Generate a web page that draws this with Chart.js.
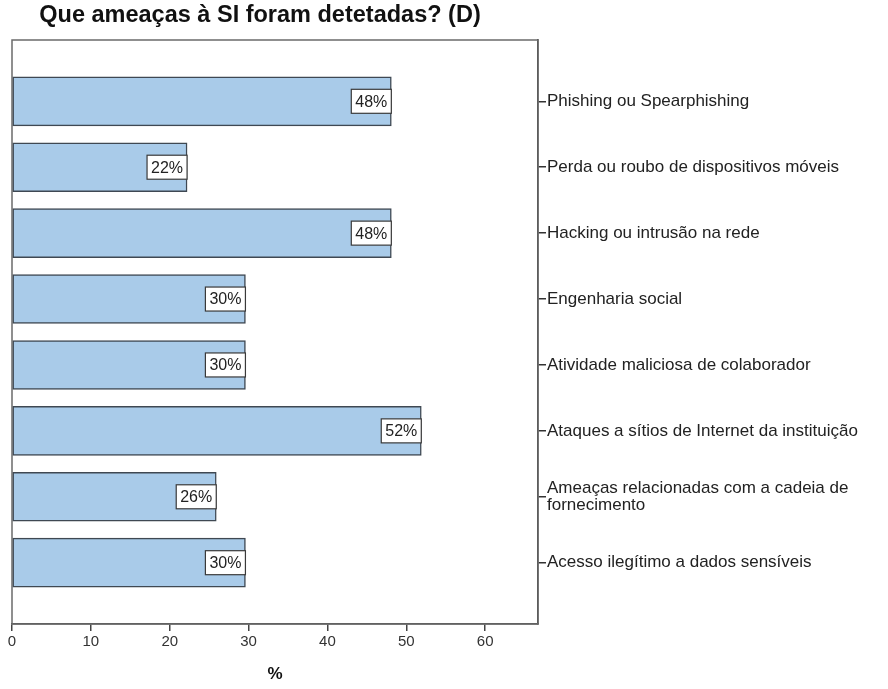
<!DOCTYPE html>
<html>
<head>
<meta charset="utf-8">
<script src="https://cdn.jsdelivr.net/npm/chart.js@4"></script>
<style>
  html, body { margin: 0; padding: 0; background: #fff; }
  #wrap { width: 888px; height: 689px; position: relative; overflow: hidden; }
</style>
</head>
<body>
<div id="wrap"><canvas id="threatChart" width="888" height="689"></canvas></div>
<script>
// data (n = 27 respondents)
const titleText = 'Que ameaças à SI foram detetadas? (D)';
const categories = [
    'Phishing ou Spearphishing',
    'Perda ou roubo de dispositivos móveis',
    'Hacking ou intrusão na rede',
    'Engenharia social',
    'Atividade maliciosa de colaborador',
    'Ataques a sítios de Internet da instituição',
    ['Ameaças relacionadas com a cadeia de', 'fornecimento'],
    'Acesso ilegítimo a dados sensíveis'
];
const percents = [48.1, 22.2, 48.1, 29.6, 29.6, 51.9, 25.9, 29.6];
const xTicks = [0, 10, 20, 30, 40, 50, 60];

const font = '"Liberation Sans", Arial, sans-serif';

// frame around the plot area + the title
const framePlugin = {
    id: 'frame',
    beforeDatasetsDraw(chart) {
        const a = chart.chartArea;
        const c = chart.ctx;
        c.save();
        c.strokeStyle = '#6b6b6b';
        c.lineWidth = 1.5;
        c.strokeRect(a.left, a.top, a.right - a.left, a.bottom - a.top);
        c.restore();
    },
    afterDraw(chart) {
        const c = chart.ctx;
        c.save();
        c.font = 'bold 23.5px ' + font;
        c.fillStyle = '#111';
        c.textAlign = 'center';
        c.textBaseline = 'middle';
        c.fillText(titleText, 260, 16);
        c.restore();
    }
};

// white value boxes at the end of each bar
const valueBoxes = {
    id: 'valueBoxes',
    afterDatasetsDraw(chart) {
        const c = chart.ctx;
        const meta = chart.getDatasetMeta(0);
        c.save();
        c.font = '16px ' + font;
        meta.data.forEach((bar, i) => {
            const txt = Math.round(percents[i]) + '%';
            const w = c.measureText(txt).width + 8;
            const h = 24;
            const x = bar.x - w;
            const y = bar.y - h / 2;
            c.fillStyle = '#fff';
            c.fillRect(x, y, w, h);
            c.strokeStyle = '#3a3a3a';
            c.lineWidth = 1.2;
            c.strokeRect(x, y, w, h);
            c.fillStyle = '#222';
            c.textAlign = 'right';
            c.textBaseline = 'middle';
            c.fillText(txt, bar.x - 4, bar.y + 1);
        });
        c.restore();
    }
};

const ctx = document.getElementById('threatChart').getContext('2d');
const chart = new Chart(ctx, {
    type: 'bar',
    data: {
        datasets: [{
            data: percents.map((v, i) => ({ x: v, y: i })),
            backgroundColor: '#a9cbe9',
            borderColor: '#3f4852',
            borderWidth: 1.5,
            borderSkipped: false,
            barThickness: 49
        }]
    },
    options: {
        indexAxis: 'y',
        responsive: false,
        animation: false,
        layout: { padding: { top: 40, left: 12, right: 0, bottom: 0 } },
        plugins: {
            legend: { display: false },
            tooltip: { enabled: false }
        },
        scales: {
            x: {
                type: 'linear',
                position: 'bottom',
                min: 0,
                max: 66.7,
                afterBuildTicks: s => { s.ticks = xTicks.map(v => ({ value: v })); },
                afterFit: s => { s.height = 65; },
                grid: { drawOnChartArea: false, tickLength: 7, color: '#444', lineWidth: 1.5 },
                border: { display: true, color: '#444', width: 1.5 },
                ticks: { font: { family: font, size: 15 }, color: '#333', padding: 2, maxRotation: 0 },
                title: {
                    display: true,
                    text: '%',
                    font: { family: font, size: 17, weight: 'bold' },
                    color: '#111',
                    padding: { top: 10 }
                }
            },
            y: {
                type: 'linear',
                position: 'right',
                reverse: true,
                offset: false,
                min: -0.93,
                max: 7.93,
                afterBuildTicks: s => { s.ticks = categories.map((c, i) => ({ value: i })); },
                afterFit: s => { s.width = 350; },
                grid: { offset: false, drawOnChartArea: false, tickLength: 8, color: '#333', lineWidth: 1.5 },
                border: { display: true, color: '#333', width: 1.5 },
                ticks: {
                    font: { family: font, size: 17, lineHeight: 1.0 },
                    color: '#222',
                    padding: 1,
                    autoSkip: false,
                    callback: v => categories[v]
                }
            }
        }
    },
    plugins: [framePlugin, valueBoxes]
});
</script>
</body>
</html>
